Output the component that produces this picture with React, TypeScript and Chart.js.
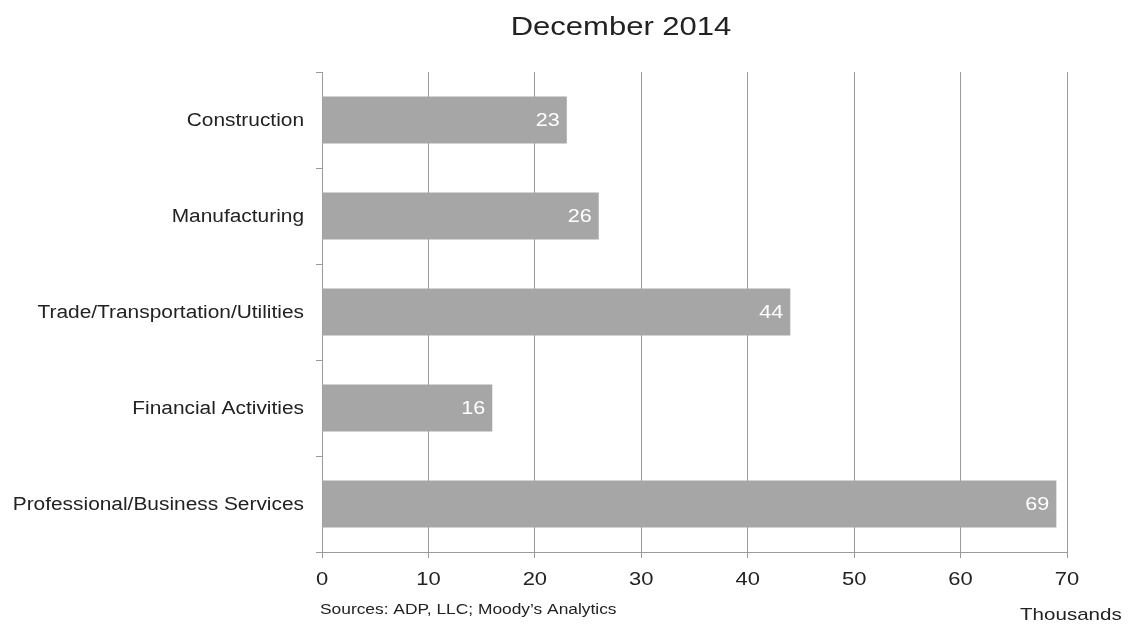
import React, { useEffect, useRef } from "react";
import { Chart, registerables } from "chart.js";

Chart.register(...registerables);

const categories = [
  "Construction",
  "Manufacturing",
  "Trade/Transportation/Utilities",
  "Financial Activities",
  "Professional/Business Services",
];
const jobsAdded = [23, 26, 44, 16, 69];
const xTickValues = [0, 10, 20, 30, 40, 50, 60, 70];

const titleText = "December 2014";
const sourceText = "Sources: ADP, LLC; Moody\u2019s Analytics";
const unitText = "Thousands";

const FONT = "'Liberation Sans', Arial, sans-serif";
const TEXT_COLOR = "#222222";

// Draws text with a horizontal stretch factor (wide, Arial-like lettering).
function wideText(
  ctx: CanvasRenderingContext2D,
  text: string,
  x: number,
  y: number,
  size: number,
  align: CanvasTextAlign,
  sx: number,
  color: string
) {
  ctx.save();
  ctx.translate(x, y);
  ctx.scale(sx, 1);
  ctx.font = `${size}px ${FONT}`;
  ctx.fillStyle = color;
  ctx.textAlign = align;
  ctx.textBaseline = "middle";
  ctx.fillText(text, 0, 0);
  ctx.restore();
}

const annotations = {
  id: "annotations",
  afterDatasetsDraw(chart: any) {
    const { ctx } = chart;
    const meta = chart.getDatasetMeta(0);
    meta.data.forEach((bar: any, i: number) => {
      wideText(ctx, String(Math.round(jobsAdded[i])), bar.x - 7, bar.y + 1, 18, "right", 1.2, "#ffffff");
    });
  },
  afterDraw(chart: any) {
    const { ctx, chartArea, scales } = chart;
    // category labels
    categories.forEach((c, i) => {
      wideText(ctx, c, 304, scales.y.getPixelForValue(i) + 1, 18, "right", 1.16, TEXT_COLOR);
    });
    // value axis labels
    xTickValues.forEach((v) => {
      wideText(ctx, String(v), scales.x.getPixelForValue(v), 580, 18, "center", 1.22, TEXT_COLOR);
    });
    wideText(ctx, titleText, 621, 28, 25, "center", 1.24, TEXT_COLOR);
    wideText(ctx, sourceText, chartArea.left - 2, 610, 14, "left", 1.24, TEXT_COLOR);
    wideText(ctx, unitText, 1020, 615, 17, "left", 1.21, TEXT_COLOR);
  },
};

export default function App() {
  const canvasRef = useRef<HTMLCanvasElement | null>(null);

  useEffect(() => {
    const canvas = canvasRef.current;
    if (!canvas) return;
    const chart = new Chart(canvas, {
      type: "bar",
      data: {
        labels: categories,
        datasets: [
          {
            data: jobsAdded,
            backgroundColor: "#a6a6a6",
            borderWidth: 0,
            barPercentage: 0.49,
            categoryPercentage: 1,
          },
        ],
      },
      options: {
        indexAxis: "y",
        responsive: false,
        animation: false,
        layout: { padding: { left: 0, top: 72, right: 62, bottom: 0 } },
        plugins: {
          legend: { display: false },
          title: { display: false },
          tooltip: { enabled: false },
        },
        scales: {
          x: {
            type: "linear",
            min: 0,
            max: 70,
            afterBuildTicks: (scale: any) => {
              scale.ticks = xTickValues.map((v) => ({ value: v }));
            },
            afterFit: (scale: any) => {
              scale.height = 74;
            },
            grid: {
              color: "#9a9a9a",
              lineWidth: 1,
              tickLength: 6,
            },
            border: { color: "#9a9a9a", width: 1 },
            ticks: {
              color: "rgba(0,0,0,0)",
              font: { family: FONT, size: 17 },
              padding: 12,
            },
          },
          y: {
            afterFit: (scale: any) => {
              scale.width = 322;
            },
            grid: {
              drawOnChartArea: false,
              color: "#9a9a9a",
              tickLength: 6,
              offset: true,
            },
            border: { color: "#9a9a9a", width: 1 },
            ticks: {
              color: "rgba(0,0,0,0)",
              font: { family: FONT, size: 17 },
              padding: 12,
            },
          },
        },
      },
      plugins: [annotations],
    });
    return () => chart.destroy();
  }, []);

  return (
    <div style={{ position: "absolute", left: 0, top: 0, width: 1129, height: 626, background: "#ffffff" }}>
      <canvas ref={canvasRef} width={1129} height={626} />
    </div>
  );
}
